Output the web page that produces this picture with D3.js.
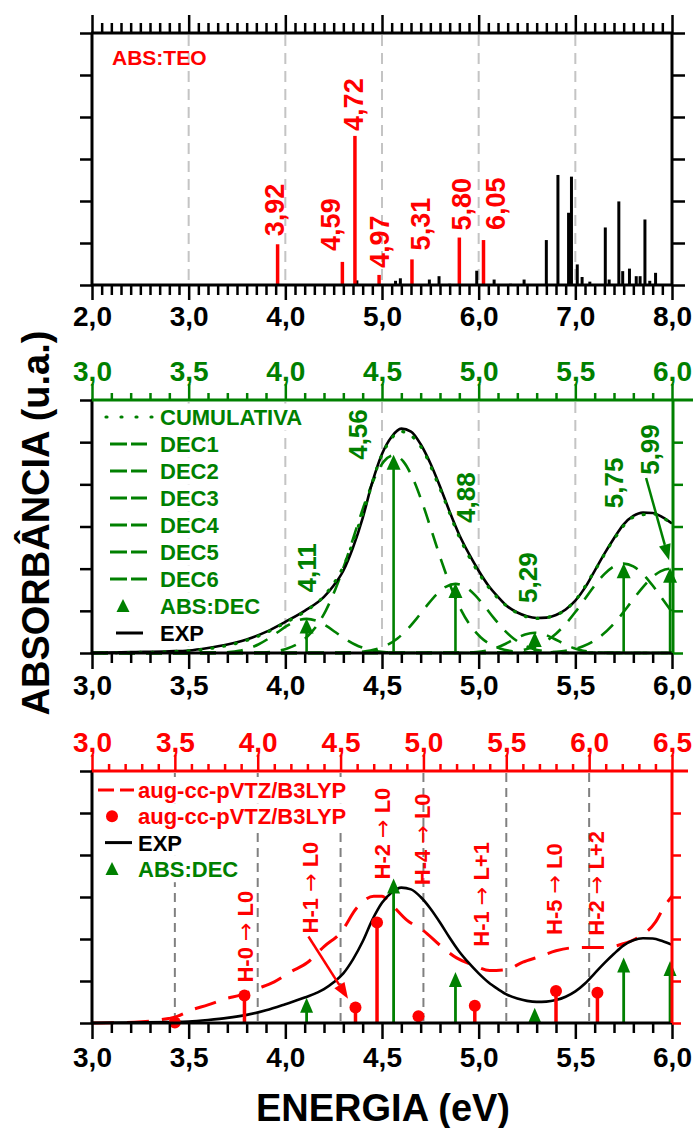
<!DOCTYPE html>
<html><head><meta charset="utf-8">
<script src="https://cdn.jsdelivr.net/npm/d3@7"></script>
<style>
body{margin:0;background:#fff}
svg{display:block}
text{font-family:"Liberation Sans",Arial,sans-serif;font-weight:bold}
</style>
</head><body>
<svg id="c" width="694" height="1128"></svg>
<script>
// ---------------- DATA ----------------
// theoretical transitions (eV) and oscillator strengths (a.u.)
const teoE = [3.50, 3.92, 4.59, 4.72, 4.97, 5.31, 5.80, 6.05];
const teoF = [0.02, 0.97, 0.55, 3.55, 0.24, 0.61, 1.13, 1.07];
const teoLabels = ["", "3,92", "4,59", "4,72", "4,97", "5,31", "5,80", "6,05"];
const teoFrom = ["", "H-0", "H-1", "H-2", "H-4", "H-1", "H-5", "H-2"];
const teoTo = ["", "L0", "L0", "L0", "L0", "L+1", "L0", "L+2"];
// other (black) theoretical transitions
const otherE = [4.44, 4.74, 5.14, 5.19, 5.49, 5.59, 5.70, 5.98, 6.16, 6.33, 6.47, 6.70, 6.82, 6.93, 6.96, 7.02, 7.07, 7.15, 7.31, 7.35, 7.45, 7.49, 7.56, 7.63, 7.67, 7.72, 7.77, 7.83];
const otherF = [0.02, 0.11, 0.10, 0.16, 0.13, 0.21, 0.03, 0.34, 0.13, 0.03, 0.13, 1.07, 2.62, 1.72, 2.58, 0.49, 0.19, 0.08, 1.37, 0.13, 1.99, 0.33, 0.39, 0.21, 0.21, 1.56, 0.10, 0.29];

// deconvoluted absorption bands
const decE = [4.11, 4.56, 4.88, 5.29, 5.75, 5.99];
const decF = [0.82, 4.70, 1.66, 0.50, 2.13, 2.02];
const decLabels = ["4,11", "4,56", "4,88", "5,29", "5,75", "5,99"];

// experimental spectrum
const expE = [3.0,3.2,3.4,3.5,3.6,3.7,3.8,3.9,4.0,4.1,4.2,4.25,4.3,4.35,4.4,4.45,4.5,4.55,4.6,4.65,4.7,4.75,4.8,4.85,4.9,4.95,5.0,5.05,5.1,5.15,5.2,5.25,5.3,5.35,5.4,5.45,5.5,5.55,5.6,5.65,5.7,5.75,5.8,5.85,5.9,5.95,6.0];
const expA = [0.0,0.02,0.04,0.06,0.12,0.2,0.32,0.5,0.74,1.0,1.33,1.6,1.95,2.5,3.2,4.05,4.72,5.13,5.32,5.25,4.95,4.5,3.95,3.35,2.8,2.35,1.95,1.6,1.33,1.1,0.96,0.87,0.83,0.84,0.9,1.03,1.24,1.55,1.95,2.35,2.72,3.05,3.25,3.33,3.32,3.22,3.07];

// cumulative fit
const cumE = [3.0,3.2,3.4,3.6,3.8,3.9,4.0,4.1,4.2,4.3,4.4,4.5,4.6,4.7,4.8,4.9,5.0,5.1,5.2,5.3,5.4,5.5,5.6,5.7,5.8,5.9,6.0];
const cumA = [0.0,0.01,0.03,0.1,0.3,0.48,0.72,0.98,1.35,2.05,3.3,4.7,5.25,4.9,3.9,2.75,1.9,1.3,0.95,0.82,0.9,1.25,1.95,2.7,3.22,3.3,3.05];

// deconvolution components [eV, value]
const dec1 = [[3.0,0],[3.61,0.003],[3.71,0.023],[3.76,0.053],[3.81,0.109],[3.86,0.202],[3.91,0.333],[3.96,0.492],[4.01,0.648],[4.06,0.766],[4.11,0.81],[4.16,0.766],[4.21,0.648],[4.26,0.492],[4.31,0.333],[4.36,0.202],[4.41,0.109],[4.46,0.053],[4.51,0.023],[4.61,0.003],[6.0,0]];
const dec2 = [[3.0,0],[3.86,0.01],[3.96,0.052],[4.01,0.108],[4.06,0.206],[4.11,0.375],[4.16,0.633],[4.21,1.013],[4.26,1.524],[4.31,2.148],[4.36,2.847],[4.41,3.541],[4.46,4.137],[4.51,4.545],[4.56,4.69],[4.61,4.545],[4.66,4.137],[4.71,3.541],[4.76,2.847],[4.81,2.148],[4.86,1.524],[4.91,1.013],[4.96,0.633],[5.01,0.375],[5.06,0.206],[5.11,0.108],[5.16,0.052],[5.26,0.01],[6.0,0]];
const dec3 = [[3.0,0],[4.28,0.003],[4.38,0.021],[4.48,0.103],[4.53,0.197],[4.58,0.346],[4.63,0.556],[4.68,0.822],[4.73,1.112],[4.78,1.379],[4.83,1.571],[4.88,1.64],[4.93,1.571],[4.98,1.379],[5.03,1.112],[5.08,0.822],[5.13,0.556],[5.18,0.346],[5.23,0.197],[5.28,0.103],[5.38,0.021],[5.48,0.003],[6.0,0]];
const dec4 = [[3.0,0],[4.89,0.002],[4.99,0.021],[5.04,0.055],[5.09,0.12],[5.14,0.22],[5.19,0.339],[5.24,0.44],[5.29,0.48],[5.34,0.44],[5.39,0.339],[5.44,0.22],[5.49,0.12],[5.54,0.055],[5.59,0.021],[5.69,0.002],[6.0,0]];
const dec5 = [[3.0,0],[5.05,0.004],[5.15,0.023],[5.2,0.049],[5.25,0.093],[5.3,0.17],[5.35,0.286],[5.4,0.458],[5.45,0.689],[5.5,0.971],[5.55,1.287],[5.6,1.601],[5.65,1.87],[5.7,2.054],[5.75,2.12],[5.8,2.054],[5.85,1.87],[5.9,1.601],[5.95,1.287],[6.0,0.971]];
const dec6 = [[3.0,0],[5.29,0.004],[5.39,0.022],[5.44,0.046],[5.49,0.088],[5.54,0.16],[5.59,0.27],[5.64,0.432],[5.69,0.65],[5.74,0.916],[5.79,1.214],[5.84,1.51],[5.89,1.764],[5.94,1.938],[5.99,2.0],[6.0,1.998]];

// broadened aug-cc-pVTZ/B3LYP spectrum
const calcE = [3.0,3.2,3.3,3.4,3.5,3.6,3.7,3.8,3.9,4.0,4.1,4.2,4.3,4.4,4.5,4.6,4.7,4.75,4.8,4.9,5.0,5.1,5.2,5.3,5.4,5.5,5.6,5.7,5.8,5.9,6.0,6.1,6.2,6.3,6.4,6.45,6.5];
const calcA = [0,0.01,0.03,0.07,0.14,0.31,0.43,0.57,0.67,0.82,0.98,1.22,1.44,1.82,2.15,2.75,3.02,3.02,2.85,2.45,2.2,1.85,1.55,1.38,1.25,1.27,1.45,1.58,1.72,1.79,1.8,1.8,1.88,2.05,2.4,2.75,3.02];

// tick values
const topTicks = [2,3,4,5,6,7,8];
const midTicks = [3.0,3.5,4.0,4.5,5.0,5.5,6.0];
const redTicks = [3.0,3.5,4.0,4.5,5.0,5.5,6.0,6.5];
const yTicks = [0,1,2,3,4,5,6];

// ---------------- LAYOUT ----------------
const svg = d3.select("#c");
const L = 92, R = 672;
const GREEN = "#008000", RED = "#ff0000";
const fmt = d => d.toFixed(1).replace(".", ",");

const xTop = d3.scaleLinear([2,8],[L,R]);
const yTop = d3.scaleLinear([0,6],[285,33]);
const xMid = d3.scaleLinear([3,6],[L,R]);
const yMid = d3.scaleLinear([0,6],[653,400]);
const xBot = d3.scaleLinear([3,6],[L,R]);
const xRed = d3.scaleLinear([3,6.5],[L,R]);
const yBotExp = d3.scaleLinear([0,9.9],[1023,771]);
const yBotDec = d3.scaleLinear([0,8.2],[1023,771]);
const yBotTeo = d3.scaleLinear([0,8.9],[1023,771]);
const yBotCalc = d3.scaleLinear([0,6],[1023,771]);

function range(a,b,s){const r=[];for(let v=a;v<=b+1e-9;v+=s)r.push(+v.toFixed(3));return r;}

function axis(fn, scale, tr, values, size, color, withLabels, labelY){
  const a = fn(scale).tickValues(values).tickSize(size).tickSizeOuter(0)
    .tickFormat(withLabels ? fmt : "");
  const g = svg.append("g").attr("transform", tr).call(a);
  g.select(".domain").remove();
  g.selectAll(".tick line").attr("stroke", color).attr("stroke-width", 2.5);
  g.selectAll(".tick text").attr("fill", color)
    .style("font-family", '"Liberation Sans",Arial,sans-serif')
    .style("font-weight", "bold").style("font-size", "28px")
    .attr("dy", null).attr("y", labelY);
  return g;
}
function hline(x1,x2,y,color,w){svg.append("line").attr("x1",x1).attr("x2",x2).attr("y1",y).attr("y2",y).attr("stroke",color).attr("stroke-width",w||3);}
function vline(x,y1,y2,color,w){svg.append("line").attr("x1",x).attr("x2",x).attr("y1",y1).attr("y2",y2).attr("stroke",color).attr("stroke-width",w||3);}
function upArrow(g,x,yBase,yTip,color,w,hw,hl){
  g.append("line").attr("x1",x).attr("x2",x).attr("y1",yBase).attr("y2",yTip+hl-1)
    .attr("stroke",color).attr("stroke-width",w);
  g.append("path").attr("d",`M${x},${yTip} L${x-hw/2},${yTip+hl} L${x+hw/2},${yTip+hl} Z`).attr("fill",color);
}
function pointer(x1,y1,x2,y2,color){
  const ang = Math.atan2(y2-y1,x2-x1), hl=16, hw=12;
  const bx = x2 - hl*Math.cos(ang), by = y2 - hl*Math.sin(ang);
  svg.append("line").attr("x1",x1).attr("y1",y1).attr("x2",bx).attr("y2",by).attr("stroke",color).attr("stroke-width",2.5);
  const px = -Math.sin(ang)*hw/2, py = Math.cos(ang)*hw/2;
  svg.append("path").attr("d",`M${x2},${y2} L${bx+px},${by+py} L${bx-px},${by-py} Z`).attr("fill",color);
}
function vlabel(cx, bottom, txt, color, size){
  return svg.append("text").attr("transform",`translate(${cx+size*0.36},${bottom}) rotate(-90)`)
    .attr("fill",color).style("font-size",size+"px").text(txt);
}
function grid(scale, vals, y1, y2, color, dash){
  svg.append("g").selectAll("line").data(vals).join("line")
    .attr("x1",d=>scale(d)).attr("x2",d=>scale(d)).attr("y1",y1).attr("y2",y2)
    .attr("stroke",color).attr("stroke-width",2).attr("stroke-dasharray",dash);
}

// ================= TOP PANEL =================
grid(xTop,[3,4,5,6,7],35,283,"#c4c4c4","11,7");
const gTop = svg.append("g");
gTop.selectAll("line.ob").data(otherE).join("line").attr("class","ob")
  .attr("x1",(d)=>xTop(d)).attr("x2",(d)=>xTop(d))
  .attr("y1",yTop(0)).attr("y2",(d,i)=>yTop(otherF[i]))
  .attr("stroke","#000").attr("stroke-width",3);
gTop.selectAll("line.rb").data(teoE).join("line").attr("class","rb")
  .attr("x1",(d)=>xTop(d)).attr("x2",(d)=>xTop(d))
  .attr("y1",yTop(0)).attr("y2",(d,i)=>yTop(teoF[i]))
  .attr("stroke",RED).attr("stroke-width",3.5);
const topLblOff = [[0,0],[-3,8],[-12,11],[-2,5],[0,7],[8,9],[2,7],[12,10]];
teoE.forEach((e,i)=>{ if(teoLabels[i]) vlabel(xTop(e)+topLblOff[i][0], yTop(teoF[i])-topLblOff[i][1], teoLabels[i], RED, 27); });
svg.append("text").attr("x",112).attr("y",65).attr("fill",RED).style("font-size","21px").text("ABS:TEO");
// axes
hline(L-1,R+1,285,"#000"); hline(L-1,R+1,33,"#000"); vline(L,33,285,"#000"); vline(R,33,285,"#000");
axis(d3.axisBottom,xTop,"translate(0,285)",range(2,8,0.1).filter(v=>Math.abs(v-Math.round(v))>1e-6),10,"#000",false,0);
axis(d3.axisBottom,xTop,"translate(0,285)",topTicks,15,"#000",true,41);
axis(d3.axisTop,xTop,"translate(0,33)",range(2,8,0.1).filter(v=>Math.abs(v-Math.round(v))>1e-6),10,"#000",false,0);
axis(d3.axisTop,xTop,"translate(0,33)",topTicks,18,"#000",false,0);
axis(d3.axisLeft,yTop,`translate(${L},0)`,yTicks,12,"#000",false,0);
axis(d3.axisRight,yTop,`translate(${R},0)`,yTicks,13,"#000",false,0);

// ================= MIDDLE PANEL =================
grid(xMid,[3.5,4.0,4.5,5.0,5.5],402,651,"#c4c4c4","11,7");
const line = (xs,ys)=>d3.line().x(d=>xs(d[0])).y(d=>ys(d[1])).curve(d3.curveMonotoneX);
const gMid = svg.append("g");
[dec1,dec2,dec3,dec4,dec5,dec6].forEach(d=>{
  gMid.append("path").datum(d).attr("d",line(xMid,yMid)).attr("fill","none")
    .attr("stroke",GREEN).attr("stroke-width",2.6).attr("stroke-dasharray","16,11");
});
gMid.append("path").datum(expE.map((e,i)=>[e,expA[i]])).attr("d",line(xMid,yMid))
  .attr("fill","none").attr("stroke","#000").attr("stroke-width",2.6);
gMid.append("path").datum(cumE.map((e,i)=>[e,cumA[i]])).attr("d",line(xMid,yMid))
  .attr("fill","none").attr("stroke",GREEN).attr("stroke-width",3.2)
  .attr("stroke-dasharray","1,11").attr("stroke-linecap","round");
decE.forEach((e,i)=>upArrow(gMid,xMid(e),yMid(0),yMid(decF[i]),GREEN,2.6,14,15));
const midLblOff = [[0,26],[-36,-5],[10,60],[-7,29],[-10,55],[-20,93]];
decE.forEach((e,i)=>vlabel(xMid(e)+midLblOff[i][0], yMid(decF[i])-midLblOff[i][1], decLabels[i], GREEN, 26));
pointer(xMid(5.866),yMid(4.15),xMid(5.985),yMid(2.2),GREEN);

// legend (middle)
const midLeg = ["CUMULATIVA","DEC1","DEC2","DEC3","DEC4","DEC5","DEC6","ABS:DEC","EXP"];
const lgM = svg.append("g");
midLeg.forEach((t,i)=>{
  const cy = 417 + i*27;
  const bg = lgM.append("rect").attr("x",96).attr("y",cy-13.5).attr("height",27).attr("fill","#fff");
  const tx = lgM.append("text").attr("x",160).attr("y",cy+8).style("font-size","22px")
    .attr("fill", t==="EXP" ? "#000" : GREEN).text(t);
  bg.attr("width", 160 + tx.node().getComputedTextLength() + 3 - 96);
  if(i===0){
    lgM.append("line").attr("x1",106).attr("x2",152).attr("y1",cy).attr("y2",cy)
      .attr("stroke",GREEN).attr("stroke-width",3.2).attr("stroke-dasharray","1,14").attr("stroke-linecap","round");
  } else if(i<=6){
    [[110,127],[131,147]].forEach(s=>lgM.append("line").attr("x1",s[0]).attr("x2",s[1]).attr("y1",cy).attr("y2",cy).attr("stroke",GREEN).attr("stroke-width",3));
  } else if(t==="ABS:DEC"){
    lgM.append("path").attr("d",`M123,${cy-7} L116.5,${cy+6} L129.5,${cy+6} Z`).attr("fill",GREEN);
  } else {
    lgM.append("line").attr("x1",116).attr("x2",143).attr("y1",cy).attr("y2",cy).attr("stroke","#000").attr("stroke-width",3);
  }
});
// axes middle
hline(L-1,R,653,"#000"); vline(L,400,653,"#000");
hline(L-1,R+21,400,GREEN); vline(R+1,399,653,GREEN);
axis(d3.axisBottom,xMid,"translate(0,653)",range(3,6,0.1).filter(v=>Math.abs(v*2-Math.round(v*2))>1e-6),10,"#000",false,0);
axis(d3.axisBottom,xMid,"translate(0,653)",midTicks,16,"#000",true,42);
axis(d3.axisTop,xMid,"translate(0,400)",range(3,6,0.1).filter(v=>Math.abs(v*2-Math.round(v*2))>1e-6),7,GREEN,false,0);
axis(d3.axisTop,xMid,"translate(0,400)",midTicks,16,GREEN,true,-19);
axis(d3.axisLeft,yMid,`translate(${L},0)`,yTicks,12,"#000",false,0);
axis(d3.axisRight,yMid,`translate(${R+1},0)`,yTicks.slice(0,6),10,GREEN,false,0);

// ================= BOTTOM PANEL =================
grid(xRed,[3.5,4.0,4.5,5.0,5.5,6.0],773,1021,"#808080","9,6");
const gBot = svg.append("g");
gBot.append("path").datum(calcE.map((e,i)=>[e,calcA[i]])).attr("d",line(xRed,yBotCalc))
  .attr("fill","none").attr("stroke",RED).attr("stroke-width",3).attr("stroke-dasharray","22,13");
gBot.append("path").datum(expE.map((e,i)=>[e,expA[i]])).attr("d",line(xBot,yBotExp))
  .attr("fill","none").attr("stroke","#000").attr("stroke-width",2.6);
teoE.forEach((e,i)=>{
  gBot.append("line").attr("x1",xRed(e)).attr("x2",xRed(e)).attr("y1",yBotTeo(0)).attr("y2",yBotTeo(teoF[i]))
    .attr("stroke",RED).attr("stroke-width",3.5);
  gBot.append("circle").attr("cx",xRed(e)).attr("cy",yBotTeo(teoF[i])).attr("r",6).attr("fill",RED);
});
decE.forEach((e,i)=>upArrow(gBot,xBot(e),yBotDec(0),yBotDec(decF[i]),GREEN,2.8,13,15));
const botLblOff = [[0,0],[1,13],[-45,74],[5,43],[4,131],[6,59],[-2,56],[-1,57]];
teoE.forEach((e,i)=>{
  if(!teoFrom[i]) return;
  const t = svg.append("text").attr("transform",`translate(${xRed(e)+botLblOff[i][0]+8},${yBotTeo(teoF[i])-botLblOff[i][1]}) rotate(-90)`)
    .attr("fill",RED).style("font-size","22px");
  t.append("tspan").text(teoFrom[i]+" ");
  t.append("tspan").style("font-family",'"DejaVu Sans",sans-serif').style("font-weight","normal").text("\u2192");
  t.append("tspan").text(" "+teoTo[i]);
});
pointer(xRed(4.306),yBotCalc(2.06),xRed(4.545),yBotCalc(0.58),RED);

// legend (bottom)
const botLeg = [["aug-cc-pVTZ/B3LYP",RED],["aug-cc-pVTZ/B3LYP",RED],["EXP","#000"],["ABS:DEC",GREEN]];
const lgB = svg.append("g");
botLeg.forEach((t,i)=>{
  const cy = 790 + i*26.3;
  const bg = lgB.append("rect").attr("x",95).attr("y",cy-13).attr("height",26.3).attr("fill","#fff");
  const tx = lgB.append("text").attr("x",138).attr("y",cy+8).style("font-size","22px").attr("fill",t[1]).text(t[0]);
  bg.attr("width",138 + tx.node().getComputedTextLength() + 3 - 95);
  if(i===0){
    [[98,114],[120,134]].forEach(s=>lgB.append("line").attr("x1",s[0]).attr("x2",s[1]).attr("y1",cy).attr("y2",cy).attr("stroke",RED).attr("stroke-width",3));
  } else if(i===1){
    lgB.append("circle").attr("cx",112).attr("cy",cy).attr("r",6).attr("fill",RED);
  } else if(i===2){
    lgB.append("line").attr("x1",105).attr("x2",132).attr("y1",cy).attr("y2",cy).attr("stroke","#000").attr("stroke-width",3);
  } else {
    lgB.append("path").attr("d",`M112,${cy-7} L105.5,${cy+6} L118.5,${cy+6} Z`).attr("fill",GREEN);
  }
});
// axes bottom
hline(L-1,R,1023,"#000"); vline(L,771,1023,"#000");
hline(L-1,R+16,771,RED); vline(R,770,1023,RED);
axis(d3.axisBottom,xBot,"translate(0,1023)",range(3,6,0.1).filter(v=>Math.abs(v*2-Math.round(v*2))>1e-6),10,"#000",false,0);
axis(d3.axisBottom,xBot,"translate(0,1023)",midTicks,16,"#000",true,44);
axis(d3.axisTop,xRed,"translate(0,771)",range(3,6.5,0.1).filter(v=>Math.abs(v*2-Math.round(v*2))>1e-6),7,RED,false,0);
axis(d3.axisTop,xRed,"translate(0,771)",redTicks,16,RED,true,-19);
axis(d3.axisLeft,yBotExp,`translate(${L},0)`,[0,1.65,3.3,4.95,6.6,8.25,9.9],12,"#000",false,0);
axis(d3.axisRight,yBotCalc,`translate(${R},0)`,yTicks.slice(0,6),9,RED,false,0);

// ================= TITLES =================
svg.append("text").attr("x",383).attr("y",1121).attr("text-anchor","middle").style("font-size","38px").attr("fill","#000").text("ENERGIA (eV)");
svg.append("text").attr("transform","translate(49,523) rotate(-90)").attr("text-anchor","middle").style("font-size","38px").attr("fill","#000").text("ABSORBÂNCIA (u.a.)");
</script>
</body></html>
